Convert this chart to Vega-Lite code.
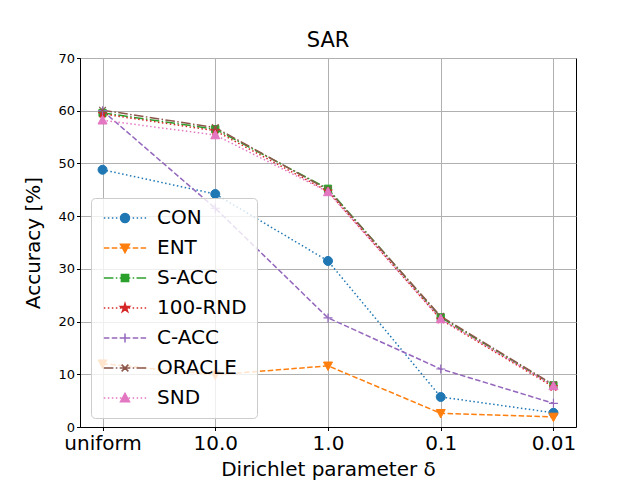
{
  "$schema": "https://vega.github.io/schema/vega-lite/v6.json",
  "width": 496,
  "height": 369,
  "autosize": "none",
  "padding": {"left": 80, "top": 58, "right": 64, "bottom": 53},
  "background": "white",
  "title": {"text": "SAR", "fontSize": 21, "fontWeight": "normal", "font": "DejaVu Sans", "color": "black", "offset": 1},
  "data": {
    "values": [
      {"series": "CON", "delta": "uniform", "acc": 48.8},
      {"series": "CON", "delta": "10.0", "acc": 44.2},
      {"series": "CON", "delta": "1.0", "acc": 31.5},
      {"series": "CON", "delta": "0.1", "acc": 5.7},
      {"series": "CON", "delta": "0.01", "acc": 2.7},
      {"series": "ENT", "delta": "uniform", "acc": 12.0},
      {"series": "ENT", "delta": "10.0", "acc": 9.9},
      {"series": "ENT", "delta": "1.0", "acc": 11.6},
      {"series": "ENT", "delta": "0.1", "acc": 2.6},
      {"series": "ENT", "delta": "0.01", "acc": 1.9},
      {"series": "S-ACC", "delta": "uniform", "acc": 59.6},
      {"series": "S-ACC", "delta": "10.0", "acc": 56.5},
      {"series": "S-ACC", "delta": "1.0", "acc": 45.2},
      {"series": "S-ACC", "delta": "0.1", "acc": 20.8},
      {"series": "S-ACC", "delta": "0.01", "acc": 7.9},
      {"series": "100-RND", "delta": "uniform", "acc": 59.4},
      {"series": "100-RND", "delta": "10.0", "acc": 56.2},
      {"series": "100-RND", "delta": "1.0", "acc": 44.7},
      {"series": "100-RND", "delta": "0.1", "acc": 20.4},
      {"series": "100-RND", "delta": "0.01", "acc": 7.6},
      {"series": "C-ACC", "delta": "uniform", "acc": 60.0},
      {"series": "C-ACC", "delta": "10.0", "acc": 41.5},
      {"series": "C-ACC", "delta": "1.0", "acc": 20.7},
      {"series": "C-ACC", "delta": "0.1", "acc": 11.0},
      {"series": "C-ACC", "delta": "0.01", "acc": 4.5},
      {"series": "ORACLE", "delta": "uniform", "acc": 60.1},
      {"series": "ORACLE", "delta": "10.0", "acc": 56.8},
      {"series": "ORACLE", "delta": "1.0", "acc": 45.0},
      {"series": "ORACLE", "delta": "0.1", "acc": 21.0},
      {"series": "ORACLE", "delta": "0.01", "acc": 8.0},
      {"series": "SND", "delta": "uniform", "acc": 58.2},
      {"series": "SND", "delta": "10.0", "acc": 55.4},
      {"series": "SND", "delta": "1.0", "acc": 44.6},
      {"series": "SND", "delta": "0.1", "acc": 20.5},
      {"series": "SND", "delta": "0.01", "acc": 7.8}
    ]
  },
  "encoding": {
    "x": {
      "field": "delta",
      "type": "ordinal",
      "sort": ["uniform", "10.0", "1.0", "0.1", "0.01"],
      "scale": {"type": "point", "padding": 0.2},
      "axis": {
        "title": "Dirichlet parameter δ",
        "labelAngle": 0,
        "labelFontSize": 20,
        "titleFontSize": 20,
        "titlePadding": 6,
        "labelPadding": 3
      }
    },
    "y": {
      "field": "acc",
      "type": "quantitative",
      "scale": {"domain": [0, 70], "nice": false},
      "axis": {
        "title": "Accuracy [%]",
        "values": [0, 10, 20, 30, 40, 50, 60, 70],
        "labelFontSize": 13,
        "titleFontSize": 20,
        "titlePadding": 14
      }
    }
  },
  "layer": [
    {
      "mark": {"type": "line", "strokeWidth": 1.5},
      "encoding": {
        "color": {
          "field": "series",
          "type": "nominal",
          "scale": {
            "range": ["#d62728", "#9467bd", "#1f77b4", "#ff7f0e", "#8c564b", "#2ca02c", "#e377c2"]
          },
          "legend": null
        },
        "strokeDash": {
          "field": "series",
          "type": "nominal",
          "scale": {
            "range": [[1.5, 2.5], [5.5, 2.4], [1.5, 2.5], [5.5, 2.4], [9.6, 2.4, 1.5, 2.4], [9.6, 2.4, 1.5, 2.4], [1.5, 2.5]]
          },
          "legend": null
        }
      }
    },
    {
      "transform": [{"filter": "datum.series == 'CON'"}],
      "mark": {"type": "point", "filled": true, "opacity": 1, "size": 81, "strokeWidth": 1, "color": "#1f77b4", "stroke": "#1f77b4", "shape": "M1,0A1,1,0,1,1,-1,0A1,1,0,1,1,1,0Z"}
    },
    {
      "transform": [{"filter": "datum.series == 'ENT'"}],
      "mark": {"type": "point", "filled": true, "opacity": 1, "size": 81, "strokeWidth": 1, "color": "#ff7f0e", "stroke": "#ff7f0e", "shape": "M-1,-0.85L1,-0.85L0,1.05Z"}
    },
    {
      "transform": [{"filter": "datum.series == 'S-ACC'"}],
      "mark": {"type": "point", "filled": true, "opacity": 1, "size": 81, "strokeWidth": 1, "color": "#2ca02c", "stroke": "#2ca02c", "shape": "M-0.8,-0.8L0.8,-0.8L0.8,0.8L-0.8,0.8Z"}
    },
    {
      "transform": [{"filter": "datum.series == '100-RND'"}],
      "mark": {"type": "point", "filled": true, "opacity": 1, "size": 81, "strokeWidth": 1, "color": "#d62728", "stroke": "#d62728", "shape": "M0,-1L0.223,-0.307L0.951,-0.309L0.361,0.117L0.588,0.809L0,0.38L-0.588,0.809L-0.361,0.117L-0.951,-0.309L-0.223,-0.307Z"}
    },
    {
      "transform": [{"filter": "datum.series == 'C-ACC'"}],
      "mark": {"type": "point", "filled": true, "opacity": 1, "size": 81, "strokeWidth": 1.2, "color": "#9467bd", "stroke": "#9467bd", "shape": "M-1,0L1,0M0,-1L0,1"}
    },
    {
      "transform": [{"filter": "datum.series == 'ORACLE'"}],
      "mark": {"type": "point", "filled": true, "opacity": 1, "size": 81, "strokeWidth": 1.2, "color": "#8c564b", "stroke": "#8c564b", "shape": "M-0.75,-0.75L0.75,0.75M-0.75,0.75L0.75,-0.75"}
    },
    {
      "transform": [{"filter": "datum.series == 'SND'"}],
      "mark": {"type": "point", "filled": true, "opacity": 1, "size": 81, "strokeWidth": 1, "color": "#e377c2", "stroke": "#e377c2", "shape": "M-1,0.85L1,0.85L0,-1.05Z"}
    },
    {
      "transform": [{"filter": "false"}],
      "mark": {"type": "point", "filled": true, "opacity": 1},
      "encoding": {
        "fill": {
          "field": "series",
          "type": "nominal",
          "scale": {
            "domain": ["CON", "ENT", "S-ACC", "100-RND", "C-ACC", "ORACLE", "SND"],
            "range": ["#1f77b4", "#ff7f0e", "#2ca02c", "#d62728", "#9467bd", "#8c564b", "#e377c2"]
          },
          "legend": {"orient": "none", "legendX": 11, "legendY": 140, "title": null}
        },
        "stroke": {
          "field": "series",
          "type": "nominal",
          "scale": {
            "domain": ["CON", "ENT", "S-ACC", "100-RND", "C-ACC", "ORACLE", "SND"],
            "range": ["#1f77b4", "#ff7f0e", "#2ca02c", "#d62728", "#9467bd", "#8c564b", "#e377c2"]
          },
          "legend": {"orient": "none", "legendX": 11, "legendY": 140, "title": null}
        },
        "shape": {
          "field": "series",
          "type": "nominal",
          "scale": {
            "domain": ["CON", "ENT", "S-ACC", "100-RND", "C-ACC", "ORACLE", "SND"],
            "range": [
              "M-4.7,0L-4.37,0M-3.81,0L-3.48,0M-2.92,0L-2.59,0M-2.03,0L-1.7,0M-1.14,0L-0.81,0M0.81,0L1.14,0M1.7,0L2.03,0M2.59,0L2.92,0M3.48,0L3.81,0M4.37,0L4.7,0M1,0A1,1,0,1,1,-1,0A1,1,0,1,1,1,0Z",
              "M-4.7,0L-3.47,0M-2.94,0L-1.71,0M-1.18,0L1.18,0M1.71,0L2.94,0M3.47,0L4.7,0M-1,-0.85L1,-0.85L0,1.05Z",
              "M-4.7,0L-2.57,0M-2.04,0L-1.71,0M-1.18,0L1.18,0M1.71,0L2.04,0M2.57,0L4.7,0M-0.8,-0.8L0.8,-0.8L0.8,0.8L-0.8,0.8Z",
              "M-4.7,0L-4.37,0M-3.81,0L-3.48,0M-2.92,0L-2.59,0M-2.03,0L-1.7,0M-1.14,0L-0.81,0M0.81,0L1.14,0M1.7,0L2.03,0M2.59,0L2.92,0M3.48,0L3.81,0M4.37,0L4.7,0M0,-1L0.223,-0.307L0.951,-0.309L0.361,0.117L0.588,0.809L0,0.38L-0.588,0.809L-0.361,0.117L-0.951,-0.309L-0.223,-0.307Z",
              "M-4.7,0L-3.47,0M-2.94,0L-1.71,0M-1.18,0L1.18,0M1.71,0L2.94,0M3.47,0L4.7,0M-1,0L1,0M0,-1L0,1",
              "M-4.7,0L-2.57,0M-2.04,0L-1.71,0M-1.18,0L1.18,0M1.71,0L2.04,0M2.57,0L4.7,0M-0.75,-0.75L0.75,0.75M-0.75,0.75L0.75,-0.75",
              "M-4.7,0L-4.37,0M-3.81,0L-3.48,0M-2.92,0L-2.59,0M-2.03,0L-1.7,0M-1.14,0L-0.81,0M0.81,0L1.14,0M1.7,0L2.03,0M2.59,0L2.92,0M3.48,0L3.81,0M4.37,0L4.7,0M-1,0.85L1,0.85L0,-1.05Z"
            ]
          },
          "legend": {"orient": "none", "legendX": 11, "legendY": 140, "title": null}
        }
      }
    }
  ],
  "config": {
    "font": "DejaVu Sans",
    "view": {"stroke": "black", "strokeWidth": 1},
    "legend": {
      "labelFontSize": 20,
      "labelFont": "DejaVu Sans",
      "labelColor": "black",
      "symbolSize": 81,
      "symbolStrokeWidth": 1.5,
      "symbolOpacity": 1,
      "symbolOffset": 14,
      "labelOffset": 22,
      "rowPadding": 10,
      "padding": 10,
      "fillColor": "rgba(255,255,255,0.8)",
      "strokeColor": "#cccccc",
      "cornerRadius": 4
    },
    "axis": {
      "grid": true,
      "gridColor": "#b0b0b0",
      "gridWidth": 1,
      "domainColor": "black",
      "domainWidth": 1,
      "tickColor": "black",
      "tickSize": 3.5,
      "labelColor": "black",
      "titleColor": "black",
      "titleFontWeight": "normal",
      "labelFont": "DejaVu Sans",
      "titleFont": "DejaVu Sans"
    }
  }
}
